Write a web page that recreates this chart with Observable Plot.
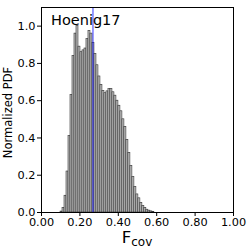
<!DOCTYPE html>
<html>
<head>
<meta charset="utf-8">
<script src="https://cdn.jsdelivr.net/npm/d3@7"></script>
<script src="https://cdn.jsdelivr.net/npm/@observablehq/plot@0.6"></script>
<style>
  html, body { margin: 0; padding: 0; background: #fff; }
  #chart svg { font-family: "DejaVu Sans", sans-serif; }
</style>
</head>
<body>
<div id="chart"></div>
<script>
// Histogram of F_cov (normalized PDF)
const binStart = 0.099;
const binWidth = 0.0104;
const pdf = [
  0.005, 0.025, 0.09, 0.22, 0.41, 0.63, 0.84, 0.96, 1.00, 0.89,
  0.86, 0.87, 0.88, 0.93, 0.975, 0.96, 0.91, 0.85, 0.79, 0.73,
  0.685, 0.653, 0.64, 0.65, 0.662, 0.662, 0.645, 0.627, 0.60, 0.573,
  0.543, 0.50, 0.46, 0.39, 0.32, 0.25, 0.19, 0.136, 0.097, 0.076,
  0.05, 0.035, 0.025, 0.015, 0.01, 0.006, 0.003
];
const markerValue = [0.268];
const xTicks = [0, 0.2, 0.4, 0.6, 0.8, 1.0];
const yTicks = [0, 0.2, 0.4, 0.6, 0.8, 1.0];
const titleText = ["Hoenig17"];
const yLabel = "Normalized PDF";
const xLabelMain = "F";
const xLabelSub = "cov";

const bins = pdf.map((v, i) => ({
  x1: binStart + i * binWidth,
  x2: binStart + (i + 1) * binWidth,
  y: v
}));

const W = 249, H = 249;
const mL = 41, mR = 16, mT = 7, mB = 37;

const chart = Plot.plot({
  width: W,
  height: H,
  marginLeft: mL,
  marginRight: mR,
  marginTop: mT,
  marginBottom: mB,
  style: { fontSize: "11.3px", fontFamily: "DejaVu Sans, sans-serif", color: "black", background: "white" },
  x: { domain: [0, 1], ticks: xTicks, tickFormat: d3.format(".2f"), label: null, tickSize: 4, tickPadding: 1.5 },
  y: { domain: [0, 1.1], ticks: yTicks, tickFormat: d3.format(".1f"), label: null, tickSize: 4, tickPadding: 2 },
  marks: [
    Plot.rectY(bins, { x1: "x1", x2: "x2", y: "y", fill: "#c2c2c2", stroke: "#222", strokeWidth: 0.55, inset: 0 }),
    Plot.ruleX(markerValue, { stroke: "blue", strokeOpacity: 0.5, strokeWidth: 1.6 }),
    Plot.text(titleText, { frameAnchor: "top-left", dx: 9.5, dy: 7, lineAnchor: "top", textAnchor: "start", fontSize: 14.5, fill: "black" }),
    Plot.frame({ stroke: "black", strokeWidth: 1 })
  ]
});

const svg = d3.select(chart);
// y-axis label
svg.append("text")
  .attr("transform", `translate(8, ${(mT + (H - mB)) / 2 + 3}) rotate(-90)`)
  .attr("text-anchor", "middle")
  .attr("dominant-baseline", "middle")
  .style("font-size", "11.5px")
  .style("font-family", "DejaVu Sans, sans-serif")
  .attr("fill", "black")
  .text(yLabel);

// x-axis label with subscript
const xl = svg.append("text")
  .attr("x", mL + (W - mL - mR) / 2)
  .attr("y", 243)
  .attr("text-anchor", "middle")
  .style("font-family", "DejaVu Sans, sans-serif")
  .attr("fill", "black");
xl.append("tspan").style("font-size", "16.5px").text(xLabelMain);
xl.append("tspan").style("font-size", "12px").attr("dy", 2.5).text(xLabelSub);

document.getElementById("chart").appendChild(chart);
</script>
</body>
</html>
